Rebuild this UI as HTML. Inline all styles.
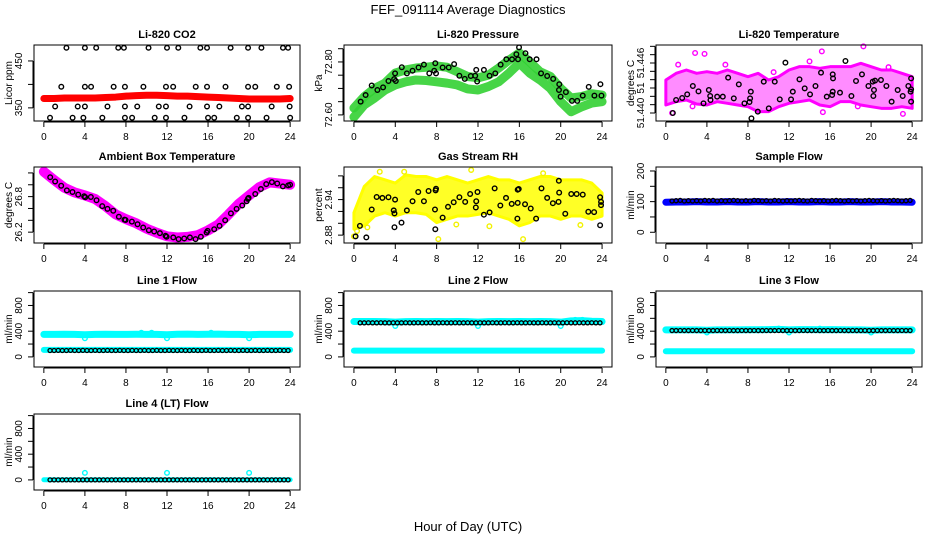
<!DOCTYPE html>
<html>
<head>
<meta charset="utf-8">
<style>
html,body{margin:0;padding:0;background:#fff;}
svg{display:block;font-family:"Liberation Sans",Arial,sans-serif;}
</style>
</head>
<body>
<svg id="chart" width="936" height="540" viewBox="0 0 936 540" xmlns="http://www.w3.org/2000/svg">
<rect x="0" y="0" width="936" height="540" fill="#fff"/>
<text x="468" y="14" font-size="13" text-anchor="middle">FEF_091114  Average Diagnostics</text>
<text x="468" y="531" font-size="13" text-anchor="middle">Hour of Day (UTC)</text>
</svg>
<script>
// ---------- data ----------
const xTicks = [0,4,8,12,16,20,24];
const hours25 = [0,1,2,3,4,5,6,7,8,9,10,11,12,13,14,15,16,17,18,19,20,21,22,23,24];

// CO2
const co2Red = [370,370,371,371,371,371,372,373,375,376,377,377,376,375,375,374,373,372,371,370,369,369,369,369,370];
const co2BlackH = [2.2,4.0,5.1,7.25,7.8,10.2,12.0,13.1,15.25,15.9,18.2,19.9,21.2,23.3,23.8,
 1.7,4.0,4.6,6.8,7.9,9.7,11.9,12.6,14.8,15.9,17.7,19.9,20.6,22.7,23.9,
 1.1,3.3,4.0,6.2,7.9,9.1,11.2,11.9,14.2,15.9,17.1,19.3,19.9,22.2,23.95,
 0.6,2.8,3.85,5.7,7.9,8.6,10.8,11.9,13.7,16.0,16.6,18.8,19.9,21.7,24.0];
const co2BlackV = [478,478,478,478,478,478,478,478,478,478,478,478,478,478,478,
 395,395,395,395,395,395,395,395,395,395,395,395,395,395,395,
 353,353,353,353,353,353,353,353,353,353,353,353,353,353,353,
 329,329,329,329,329,329,329,329,329,329,329,329,329,329,329];

// Pressure
const presUpper = [72.626,72.669,72.70,72.72,72.758,72.77,72.777,72.78,72.785,72.78,72.763,72.745,72.74,72.75,72.777,72.807,72.834,72.80,72.763,72.745,72.70,72.664,72.669,72.68,72.675];
const presLower = [72.592,72.638,72.664,72.694,72.713,72.725,72.732,72.73,72.725,72.72,72.713,72.698,72.694,72.707,72.725,72.758,72.796,72.758,72.732,72.70,72.65,72.612,72.63,72.645,72.65];
const presBlackH = [0.65,1.13,1.72,2.27,2.82,3.34,3.89,3.98,4.05,4.63,5.12,5.67,6.25,6.77,7.29,7.77,7.87,7.94,8.58,9.17,9.69,10.2,10.72,11.3,11.73,11.83,11.92,12.57,13.12,13.67,14.19,14.74,15.29,15.71,15.87,15.97,16.59,17.0,17.66,18.1,18.69,19.27,19.86,19.83,19.99,20.5,21.09,21.6,22.13,22.71,23.26,23.84,23.94];
const presBlackV = [72.650,72.675,72.711,72.694,72.704,72.728,72.735,72.757,72.728,72.78,72.757,72.767,72.779,72.79,72.757,72.767,72.795,72.757,72.779,72.779,72.792,72.748,72.736,72.747,72.748,72.77,72.726,72.77,72.748,72.757,72.79,72.81,72.81,72.829,72.81,72.855,72.833,72.81,72.81,72.757,72.747,72.736,72.716,72.694,72.669,72.686,72.653,72.653,72.673,72.706,72.673,72.716,72.673];

// Li-820 Temperature
const tempHigh = [51.44396,51.44476,51.44516,51.44476,51.44496,51.44476,51.44516,51.44476,51.44436,51.44476,51.44396,51.44436,51.44516,51.44556,51.44556,51.44536,51.44556,51.44556,51.44556,51.44596,51.44556,51.44516,51.44516,51.44476,51.44436];
const tempLow = [51.44096,51.44136,51.44156,51.44108,51.44096,51.44136,51.44116,51.44096,51.44076,51.44016,51.44016,51.44076,51.44116,51.44136,51.44156,51.44096,51.44076,51.44136,51.44136,51.44096,51.44076,51.44056,51.44056,51.44076,51.44056];
const tempPinkOutH = [2.85,3.77,15.2,19.25,0.61,23.1,15.3,2.6,18.7,1.2,5.8,10.5,14.0,21.7];
const tempPinkOutV = [51.4472,51.4471,51.4474,51.4480,51.4400,51.4399,51.4401,51.4408,51.4408,51.4458,51.4458,51.4449,51.4462,51.4455];
const tempBlackH = [0.68,1.0,1.59,2.08,2.63,3.18,3.67,4.19,4.32,4.35,5.0,5.55,6.07,6.62,7.11,7.66,8.15,8.21,8.28,8.34,8.96,9.54,10.03,10.61,11.1,11.65,12.2,12.37,13.02,13.53,14.05,14.58,15.12,15.68,16.2,16.26,16.26,16.29,16.97,17.5,18.08,18.53,19.11,19.74,20.16,20.22,20.28,20.38,20.96,21.49,22.0,22.59,23.08,23.63,23.9,23.9,23.9,23.85];
const tempBlackV = [51.44000,51.44156,51.4418,51.44224,51.44324,51.4426,51.44116,51.44276,51.44204,51.44156,51.44196,51.44196,51.44424,51.44176,51.44344,51.44116,51.44132,51.44176,51.44256,51.43936,51.44016,51.44376,51.44056,51.44376,51.44164,51.44604,51.44164,51.44256,51.44404,51.44296,51.44224,51.44324,51.44484,51.44196,51.44216,51.44256,51.44464,51.44416,51.44244,51.44624,51.44204,51.44384,51.44464,51.44324,51.44376,51.44204,51.44276,51.44388,51.44396,51.44324,51.44136,51.44276,51.44204,51.44324,51.44416,51.44284,51.44136,51.44256];

// Ambient Box Temperature
const ambPink = [27.22,27.08,26.95,26.87,26.82,26.76,26.64,26.5,26.42,26.35,26.26,26.19,26.13,26.11,26.12,26.15,26.23,26.33,26.5,26.68,26.82,26.96,27.04,27.02,27.0];
const ambBlackH = [0.62,1.1,1.69,2.24,2.79,3.35,3.93,4.03,4.58,5.13,5.69,6.2,6.76,7.31,7.86,7.96,8.58,9.13,9.68,10.23,10.75,11.31,11.86,11.96,12.61,13.13,13.68,14.23,14.78,15.3,15.86,15.96,16.6,17.12,17.67,18.23,18.78,19.33,19.76,19.88,19.95,20.6,21.15,21.67,22.22,22.74,23.29,23.81,23.99];
const ambBlackV = [27.128,27.056,26.983,26.906,26.878,26.833,26.806,26.789,26.794,26.739,26.639,26.594,26.561,26.461,26.411,26.406,26.378,26.333,26.278,26.233,26.211,26.183,26.139,26.122,26.111,26.083,26.094,26.111,26.083,26.122,26.194,26.222,26.25,26.306,26.4,26.517,26.594,26.65,26.722,26.761,26.778,26.844,26.928,27.011,27.044,27.022,26.972,26.989,27.0];

// Gas Stream RH
const rhHigh = [2.9178,2.9622,2.9789,2.9733,2.9678,2.9817,2.9789,2.9789,2.9733,2.9789,2.9733,2.9678,2.9733,2.9789,2.9733,2.9733,2.9678,2.9733,2.9789,2.9789,2.9733,2.9733,2.9733,2.9678,2.9511];
const rhLow = [2.89,2.8956,2.9122,2.9178,2.9122,2.9178,2.9178,2.915,2.9011,2.9067,2.9122,2.9122,2.915,2.9178,2.9122,2.9067,2.8956,2.9011,2.9122,2.9122,2.9067,2.9122,2.9122,2.9067,2.9122];
const rhYellowOutH = [0.0,2.5,4.86,8.16,16.36,11.34,18.3,0.3,1.3,9.9,13.1,21.9];
const rhYellowOutV = [2.8778,2.987,2.987,2.8733,2.8733,2.99,2.9845,2.887,2.893,2.898,2.895,2.897];
const rhBlackH = [0.16,0.58,1.2,1.72,2.2,2.75,3.34,3.85,3.92,3.98,3.92,4.6,5.12,5.67,6.22,6.77,7.22,7.84,7.87,7.9,7.94,8.58,9.1,9.65,10.2,10.76,11.24,11.79,11.83,11.95,12.57,13.12,13.61,14.16,14.71,15.26,15.84,15.84,15.94,15.81,16.55,17.1,17.62,18.14,18.69,19.24,19.79,19.82,19.85,20.44,21.02,21.54,22.13,22.67,23.23,23.81,23.81,23.9,23.9];
const rhBlackV = [2.8778,2.8956,2.8761,2.9233,2.9444,2.9428,2.9439,2.9217,2.9167,2.94,2.8933,2.9011,2.9217,2.9372,2.9528,2.9372,2.9545,2.9233,2.89,2.9555,2.9583,2.9095,2.9278,2.9355,2.9439,2.9362,2.9495,2.9267,2.9372,2.9528,2.9145,2.9183,2.9589,2.93,2.9428,2.9328,2.9567,2.9345,2.9578,2.9078,2.9322,2.925,2.9078,2.9589,2.9428,2.9339,2.9362,2.9717,2.9517,2.9161,2.9495,2.9495,2.9483,2.9195,2.9189,2.8967,2.9439,2.9362,2.9306];

// Flows
const flowHours = [0.6,1.0,1.4,1.8,2.2,2.6,3.0,3.4,3.8,4.2,4.6,5.0,5.4,5.8,6.2,6.6,7.0,7.4,7.8,8.2,8.6,9.0,9.4,9.8,10.2,10.6,11.0,11.4,11.8,12.2,12.6,13.0,13.4,13.8,14.2,14.6,15.0,15.4,15.8,16.2,16.6,17.0,17.4,17.8,18.2,18.6,19.0,19.4,19.8,20.2,20.6,21.0,21.4,21.8,22.2,22.6,23.0,23.4,23.8];
const sampleBlue = [98,99,99,100,99,99,100,99,99,100,99,99,100,99,99,100,99,99,100,99,99,100,99,99,98];
const sampleBlack = [102,103,104,102,103,102,103,102,104,103,104,102,103,102,103,104,103,102,103,102,104,103,102,103,102,104,103,102,103,102,103,104,103,102,104,103,102,103,102,103,104,103,102,103,102,103,102,103,104,103,102,103,102,103,104,103,102,103,104];

const line1CyanHi = [350,350,352,350,345,350,352,350,350,352,351,350,345,352,354,350,352,354,350,350,345,350,351,350,350];
const line1CyanLo = [110,110,110,110,110,110,110,110,110,110,110,110,110,110,110,110,110,110,110,110,110,110,110,110,110];
const line1Black = [100,100,101,100,100,101,100,100,101,100,100,101,100,100,101,100,100,101,100,100,101,100,100,101,100,100,101,100,100,101,100,100,101,100,100,101,100,100,101,100,100,101,100,100,101,100,100,101,100,100,101,100,100,101,100,100,101,100,100];
const line1OutH = [4.0,12.0,20.0,9.5,10.5,16.3];
const line1OutV = [290,290,290,375,375,375];

const line2CyanHi = [550,550,550,548,540,548,550,548,550,548,550,548,540,548,550,548,550,548,550,548,540,560,565,555,550];
const line2CyanLo = [98,98,98,98,98,98,98,98,98,98,98,98,98,98,98,98,98,98,98,98,98,98,98,98,98];
const line2Black = [530,530,531,530,530,531,530,530,531,530,530,531,530,530,531,530,530,531,530,530,531,530,530,531,530,530,531,530,530,531,530,530,531,530,530,531,530,530,531,530,530,531,530,530,531,530,530,531,530,530,531,530,530,531,530,530,531,530,530];
const line2OutH = [4.0,12.0,20.0,21.4,22.1];
const line2OutV = [480,480,480,575,575];

const line3CyanHi = [420,420,420,420,415,420,420,420,422,422,425,428,420,425,425,422,425,422,420,420,415,420,420,420,420];
const line3CyanLo = [88,88,88,88,88,88,88,88,88,88,88,88,88,88,88,88,88,88,88,88,88,88,88,88,88];
const line3Black = [410,410,411,410,410,411,410,410,411,410,410,411,410,410,411,410,410,411,410,410,411,410,410,411,410,410,411,410,410,411,410,410,411,410,410,411,410,410,411,410,410,411,410,410,411,410,410,411,410,410,411,410,410,411,410,410,411,410,410];
const line3OutH = [4.0,12.0,20.0,11.0,15.0];
const line3OutV = [380,380,380,440,440];

const line4Cyan = [2,2,2,2,2,2,2,2,2,2,2,2,2,2,2,2,2,2,2,2,2,2,2,2,2];
const line4Black = [0,0,0,0,0,0,0,0,0,0,0,0,0,0,0,0,0,0,0,0,0,0,0,0,0,0,0,0,0,0,0,0,0,0,0,0,0,0,0,0,0,0,0,0,0,0,0,0,0,0,0,0,0,0,0,0,0,0,0];
const line4OutH = [4.0,12.0,20.0];
const line4OutV = [110,110,110];

// ---------- drawing ----------
const NS = "http://www.w3.org/2000/svg";
const svg = document.getElementById('chart');
const colX = [[34,300],[344,612],[656,922]];
const rowY = [45,167,291,414];
const PH = 76;

function mk(tag, attrs, parent){
  const e = document.createElementNS(NS, tag);
  for (const k in attrs) e.setAttribute(k, attrs[k]);
  parent.appendChild(e);
  return e;
}

function points(g, x, y, hs, vs, color, name, r, sw){
  const grp = mk('g', {}, g);
  
  
  for (let i = 0; i < hs.length; i++){
    const c = mk('circle', {cx:x(hs[i]).toFixed(2), cy:y(vs[i]).toFixed(2), r:r||2.3, fill:'none', stroke:color, 'stroke-width':sw||1.4}, grp);
    
    
  }
}
function band(g, x, y, hs, vs, color, width, name, op){
  const d = hs.map((h,i)=>x(h).toFixed(2)+','+y(vs[i]).toFixed(2)).join(' ');
  const pl = mk('polyline', {points:d, fill:'none', stroke:color, 'stroke-width':width, 'stroke-opacity':op||1, 'stroke-linejoin':'round', 'stroke-linecap':'round'}, g);
  
  
}
function cloud(g, x, y, hs, hi, lo, color, op, name){
  const top = hs.map((h,i)=>x(h).toFixed(2)+','+y(hi[i]).toFixed(2));
  const bot = hs.map((h,i)=>x(h).toFixed(2)+','+y(lo[i]).toFixed(2)).reverse();
  const pg = mk('polygon', {points:top.concat(bot).join(' '), fill:color, 'fill-opacity':op, stroke:color, 'stroke-width':3, 'stroke-linejoin':'round'}, g);
  
  
}

function panel(p){
  const L = colX[p.col][0], R = colX[p.col][1], T = rowY[p.row], B = T + PH;
  const g = mk('g', {}, svg);
  
  
  const x = h => L + (h + 0.96) * (R - L) / 25.92;
  const y = v => B - (v - p.ymin) * (B - T) / (p.ymax - p.ymin);
  p.draw(g, x, y);
  const box = mk('rect', {x:L, y:T, width:R-L, height:B-T, fill:'none', stroke:'#000', 'stroke-width':1}, g);
  
  
  const xa = mk('g', {}, g);
  
  
  mk('line', {x1:x(xTicks[0]), x2:x(xTicks[xTicks.length-1]), y1:B+1, y2:B+1, stroke:'#000'}, xa);
  xTicks.forEach(t=>{
    mk('line', {x1:x(t), x2:x(t), y1:B+1, y2:B+6, stroke:'#000'}, xa);
    const tl = mk('text', {x:x(t), y:B+19, 'font-size':10, 'text-anchor':'middle'}, xa);
    tl.textContent = t;
    
    
  });
  const ya = mk('g', {}, g);
  
  
  mk('line', {x1:L-1, x2:L-1, y1:y(p.ticks[0]), y2:y(p.ticks[p.ticks.length-1]), stroke:'#000'}, ya);
  p.ticks.forEach(t=>{
    mk('line', {x1:L-6, x2:L-1, y1:y(t), y2:y(t), stroke:'#000'}, ya);
  });
  p.labelVals.forEach((t,i)=>{
    const yy = y(t);
    const tl = mk('text', {x:L-12, y:yy, 'font-size':10, 'text-anchor':'middle', transform:'rotate(-90 '+(L-12)+' '+yy+')'}, ya);
    tl.textContent = p.labelText[i];
    
    
  });
  const yl = mk('text', {x:L-22, y:(T+B)/2, 'font-size':10, 'text-anchor':'middle', transform:'rotate(-90 '+(L-22)+' '+((T+B)/2)+')'}, g);
  yl.textContent = p.ylab;
  
  
  const tt = mk('text', {x:(L+R)/2, y:T-7, 'font-size':11, 'font-weight':'bold', 'text-anchor':'middle'}, g);
  tt.textContent = p.title;
  
  
}

panel({name:'panel-co2', col:0, row:0, title:'Li-820 CO2', ylab:'Licor ppm', ymin:322, ymax:484,
  ticks:[350,400,450], labelVals:[350,450], labelText:['350','450'],
  draw:(g,x,y)=>{ band(g,x,y,hours25,co2Red,'#ff0000',7,'co2-red-series');
    points(g,x,y,co2BlackH,co2BlackV,'#000','co2-black-series'); }});

panel({name:'panel-pressure', col:1, row:0, title:'Li-820 Pressure', ylab:'kPa', ymin:72.577, ymax:72.864,
  ticks:[72.60,72.65,72.70,72.75,72.80,72.85], labelVals:[72.60,72.80], labelText:['72.60','72.80'],
  draw:(g,x,y)=>{ band(g,x,y,hours25,presUpper,'#33d033',9,'pressure-green-upper',0.9);
    band(g,x,y,hours25,presLower,'#33d033',9,'pressure-green-lower',0.9);
    points(g,x,y,presBlackH,presBlackV,'#000','pressure-black-series'); }});

panel({name:'panel-li820-temperature', col:2, row:0, title:'Li-820 Temperature', ylab:'degrees C', ymin:51.43904, ymax:51.44816,
  ticks:[51.440,51.441,51.442,51.443,51.444,51.445,51.446,51.447,51.448], labelVals:[51.440,51.443,51.446], labelText:['51.440','51','51.446'],
  draw:(g,x,y)=>{ cloud(g,x,y,hours25,tempHigh,tempLow,'#ff00ff',0.45,'temperature-magenta-cloud');
    points(g,x,y,tempPinkOutH,tempPinkOutV,'#ff00ff','temperature-magenta-points');
    points(g,x,y,tempBlackH,tempBlackV,'#000','temperature-black-series'); }});

panel({name:'panel-ambient-box-temperature', col:0, row:1, title:'Ambient Box Temperature', ylab:'degrees C', ymin:26.017, ymax:27.3,
  ticks:[26.2,26.4,26.6,26.8,27.0,27.2], labelVals:[26.2,26.8], labelText:['26.2','26.8'],
  draw:(g,x,y)=>{ band(g,x,y,hours25,ambPink,'#ff00ff',10,'ambient-magenta-series');
    points(g,x,y,ambBlackH,ambBlackV,'#000','ambient-black-series'); }});

panel({name:'panel-gas-stream-rh', col:1, row:1, title:'Gas Stream RH', ylab:'percent', ymin:2.8667, ymax:2.995,
  ticks:[2.88,2.90,2.92,2.94,2.96,2.98], labelVals:[2.88,2.94], labelText:['2.88','2.94'],
  draw:(g,x,y)=>{ cloud(g,x,y,hours25,rhHigh,rhLow,'#ffff00',0.85,'rh-yellow-cloud');
    points(g,x,y,rhYellowOutH,rhYellowOutV,'#f2f200','rh-yellow-points');
    points(g,x,y,rhBlackH,rhBlackV,'#000','rh-black-series'); }});

panel({name:'panel-sample-flow', col:2, row:1, title:'Sample Flow', ylab:'ml/min', ymin:-35, ymax:213,
  ticks:[0,50,100,150,200], labelVals:[0,100,200], labelText:['0','100','200'],
  draw:(g,x,y)=>{ band(g,x,y,hours25,sampleBlue,'#0000ff',7,'sample-blue-series');
    points(g,x,y,flowHours,sampleBlack,'#000','sample-black-series',2,1.3); }});

const flowTicks = [0,200,400,600,800,1000];
panel({name:'panel-line1-flow', col:0, row:2, title:'Line 1 Flow', ylab:'ml/min', ymin:-157, ymax:1025,
  ticks:flowTicks, labelVals:[0,400,800], labelText:['0','400','800'],
  draw:(g,x,y)=>{ band(g,x,y,hours25,line1CyanHi,'#00ffff',7,'line1-cyan-high');
    band(g,x,y,hours25,line1CyanLo,'#00ffff',6,'line1-cyan-low');
    points(g,x,y,line1OutH,line1OutV,'#00ffff','line1-cyan-outliers');
    points(g,x,y,flowHours,line1Black,'#000','line1-black-series',2,1.3); }});

panel({name:'panel-line2-flow', col:1, row:2, title:'Line 2 Flow', ylab:'ml/min', ymin:-157, ymax:1025,
  ticks:flowTicks, labelVals:[0,400,800], labelText:['0','400','800'],
  draw:(g,x,y)=>{ band(g,x,y,hours25,line2CyanHi,'#00ffff',7,'line2-cyan-high');
    band(g,x,y,hours25,line2CyanLo,'#00ffff',6,'line2-cyan-low');
    points(g,x,y,line2OutH,line2OutV,'#00ffff','line2-cyan-outliers');
    points(g,x,y,flowHours,line2Black,'#000','line2-black-series',2,1.3); }});

panel({name:'panel-line3-flow', col:2, row:2, title:'Line 3 Flow', ylab:'ml/min', ymin:-157, ymax:1025,
  ticks:flowTicks, labelVals:[0,400,800], labelText:['0','400','800'],
  draw:(g,x,y)=>{ band(g,x,y,hours25,line3CyanHi,'#00ffff',7,'line3-cyan-high');
    band(g,x,y,hours25,line3CyanLo,'#00ffff',6,'line3-cyan-low');
    points(g,x,y,line3OutH,line3OutV,'#00ffff','line3-cyan-outliers');
    points(g,x,y,flowHours,line3Black,'#000','line3-black-series',2,1.3); }});

panel({name:'panel-line4-flow', col:0, row:3, title:'Line 4 (LT) Flow', ylab:'ml/min', ymin:-157, ymax:1025,
  ticks:flowTicks, labelVals:[0,400,800], labelText:['0','400','800'],
  draw:(g,x,y)=>{ band(g,x,y,hours25,line4Cyan,'#00ffff',5,'line4-cyan-series');
    points(g,x,y,line4OutH,line4OutV,'#00ffff','line4-cyan-outliers');
    points(g,x,y,flowHours,line4Black,'#000','line4-black-series',2,1.3); }});
</script>
</body>
</html>
